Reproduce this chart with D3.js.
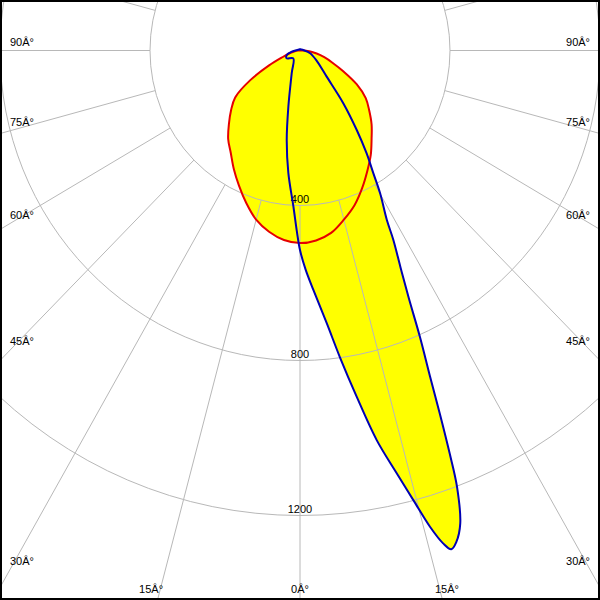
<!DOCTYPE html>
<html>
<head>
<meta charset="utf-8">
<script src="https://cdn.jsdelivr.net/npm/d3@7"></script>
<style>
html,body{margin:0;padding:0;background:#fff;}
svg{display:block;}
text{font-family:"Liberation Sans",Arial,sans-serif;font-size:11px;fill:#000;}
</style>
</head>
<body>
<svg id="chart" width="600" height="600"></svg>
<script>
// ---- data (gamma in degrees from nadir, positive to the right; intensity in cd) ----
const ringValues = [400, 800, 1200];
const ringLabels = ["400", "800", "1200"];
const radialAngles = [-165,-150,-135,-120,-105,-90,-75,-60,-45,-30,-15,0,15,30,45,60,75,90,105,120,135,150,165,180];
const angleLabelValues = [-90,-75,-60,-45,-30,-15,0,15,30,45,60,75,90];
const angleLabelText = ["90Â°","75Â°","60Â°","45Â°","30Â°","15Â°","0Â°","15Â°","30Â°","45Â°","60Â°","75Â°","90Â°"];

const redGamma = [-180,-90,-85,-80,-75,-70,-65,-60,-55,-50,-45,-40,-35,-30,-25,-20,-15,-10,-5,0,5,10,15,20,25,30,35,40,45,50,55,60,65,70,75,80,85,90,180];
const redValues = [0,5,10,18,30,49,91,153,211,240,268,298,322,353,385,419,452,475,491,497,492,478,452,425,392,359,329,297,270,241,214,175,128,92,67,45,25,6,0];

const blueGamma = [-180,-90,-82,-72,-60.5,-41.7,-20.6,-12.1,-8.7,-5.6,-2.5,-1,0,1.5,3.3,5.8,7.7,9.6,11.5,13.3,14.6,15.75,16.7,17.4,18.2,19.3,20.4,21.0,21.7,22.4,23.4,24.45,25.6,27.0,27.9,30.1,31.7,33.8,36.4,40.3,46.5,60,74.9,90,180];
const blueValues = [3,12,22,37,41,27,63,148,234,318,403,468,515,565,619,708,801,906,1026,1121,1199,1277,1328,1349,1335,1293,1201,1114,1008,910,805,699,620,548,495,426,372,319,255,179,98,50,28,12,3];

// ---- layout ----
const W = 600, H = 600;
const cx = 300, cy = 50.5;
const rX = d3.scaleLinear().domain([0, 400]).range([0, 150]);
const rY = d3.scaleLinear().domain([0, 400]).range([0, 155]);
const rad = d3.scaleLinear().domain([0, 180]).range([0, Math.PI]);
const px = (g, v) => cx + Math.sin(rad(g)) * rX(v);
const py = (g, v) => cy + Math.cos(rad(g)) * rY(v);

const svg = d3.select("#chart");
svg.append("rect").attr("width", W).attr("height", H).attr("fill", "#fff");
svg.append("clipPath").attr("id", "clip").append("rect").attr("width", W).attr("height", H);
const g = svg.append("g").attr("clip-path", "url(#clip)");

const line = d3.line().x(d => px(d[0], d[1])).y(d => py(d[0], d[1])).curve(d3.curveCatmullRomClosed.alpha(0.5));
const redPts = d3.zip(redGamma, redValues);
const bluePts = d3.zip(blueGamma, blueValues);

// fills
g.append("path").attr("d", line(redPts)).attr("fill", "#ffff00").attr("stroke", "none");
g.append("path").attr("d", line(bluePts)).attr("fill", "#ffff00").attr("stroke", "none");

// grid
const gridColor = "#b8b8b8";
g.selectAll("ellipse.ring").data(ringValues).join("ellipse")
  .attr("class", "ring")
  .attr("cx", cx).attr("cy", cy)
  .attr("rx", d => rX(d)).attr("ry", d => rY(d))
  .attr("fill", "none").attr("stroke", gridColor).attr("stroke-width", 1);

g.selectAll("line.radial").data(radialAngles).join("line")
  .attr("class", "radial")
  .attr("x1", a => px(a, ringValues[0])).attr("y1", a => py(a, ringValues[0]))
  .attr("x2", a => px(a, 3000)).attr("y2", a => py(a, 3000))
  .attr("stroke", gridColor).attr("stroke-width", 1);

// ring labels
g.selectAll("text.ringlab").data(ringValues).join("text")
  .attr("class", "ringlab")
  .attr("x", cx).attr("y", (d) => py(0, d) - 2.5)
  .attr("text-anchor", "middle")
  .text((d, i) => ringLabels[i]);

// curves
g.append("path").attr("d", line(redPts)).attr("fill", "none").attr("stroke", "#e60000").attr("stroke-width", 2).attr("stroke-linejoin", "round");
g.append("path").attr("d", line(bluePts)).attr("fill", "none").attr("stroke", "#0000b4").attr("stroke-width", 2).attr("stroke-linejoin", "round");

// angle labels
angleLabelValues.forEach((a, i) => {
  const dx = Math.sin(rad(a)) * rX(1), dy = Math.cos(rad(a)) * rY(1);
  const inset = 10;
  let tx = Infinity, ty = Infinity;
  if (dx < 0) tx = (inset - cx) / dx;
  if (dx > 0) tx = (W - inset - cx) / dx;
  if (dy > 0) ty = (H - inset - cy) / dy;
  let x, y, anchor;
  if (tx <= ty) {
    y = cy + dy * tx - 5;
    if (dx < 0) { x = inset; anchor = "start"; } else { x = W - inset; anchor = "end"; }
  } else {
    const xc = cx + dx * ty;
    y = 593;
    if (a < 0) { x = xc + 3; anchor = "end"; }
    else if (a > 0) { x = xc - 5; anchor = "start"; }
    else { x = xc; anchor = "middle"; }
  }
  svg.append("text").attr("x", x).attr("y", y).attr("text-anchor", anchor).text(angleLabelText[i]);
});

// frame
svg.append("rect").attr("x", 1).attr("y", 1).attr("width", W - 2).attr("height", H - 2)
  .attr("fill", "none").attr("stroke", "#000").attr("stroke-width", 2);
</script>
</body>
</html>
